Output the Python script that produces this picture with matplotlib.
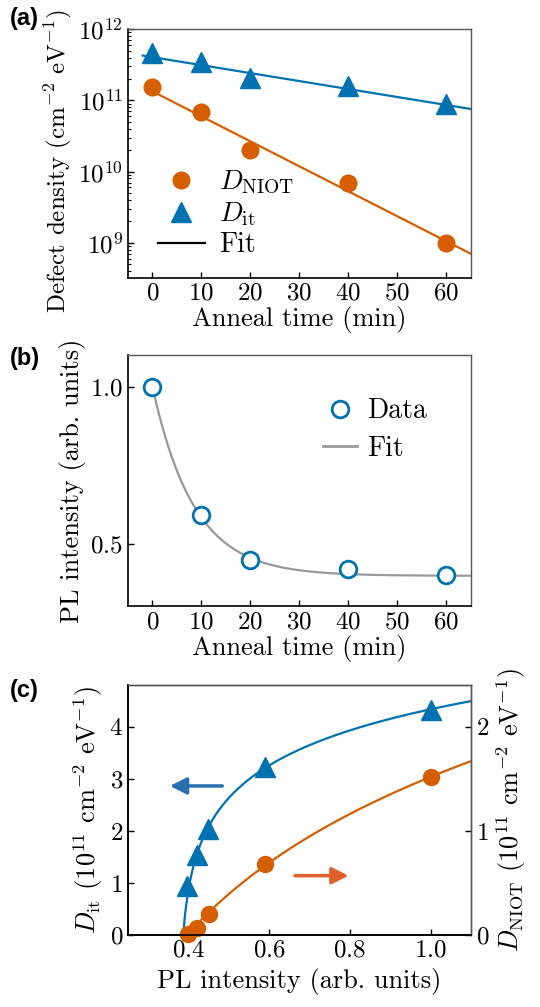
import numpy as np
import matplotlib
matplotlib.use("Agg")
import matplotlib.pyplot as plt
from matplotlib.lines import Line2D

plt.rcParams["font.family"] = "serif"
plt.rcParams["font.serif"] = ["cmr10"]
plt.rcParams["mathtext.fontset"] = "cm"
plt.rcParams["axes.formatter.use_mathtext"] = True

ORANGE = "#D55E00"
BLUE = "#0072B2"
GRAY = "#999999"

# --- data ---
# (a) defect densities vs anneal time
anneal_t = [0, 10, 20, 40, 60]
d_niot = [1.54e11, 6.86e10, 2.03e10, 6.8e9, 1.0e9]
d_it = [4.69e11, 3.47e11, 2.08e11, 1.57e11, 8.93e10]
# log10 linear fits: log10(D) = b0 + b1 * t
fit_it = (11.607, -0.0112)
fit_niot = (11.126, -0.0351)

# (b) PL intensity vs anneal time
pl = [1.0, 0.59, 0.449, 0.42, 0.3985]
# PL = A exp(-t/tau) + c
fit_pl = (0.603, 8.5, 0.397)

# (c) densities vs PL intensity
pl_it = [0.3975, 0.4216, 0.449, 0.590, 1.0]
dit_c = [0.95, 1.53, 2.03, 3.23, 4.33]
pl_niot = [0.398, 0.42, 0.45, 0.59, 1.0]
dniot_c = [0.01, 0.068, 0.2, 0.68, 1.52]
# D = a ln(1 + (PL - p0)/s)
fitc_it = (1.05, 0.387, 0.01)
fitc_niot = (1.515, 0.396, 0.35)

TICK = 18
LABEL = 19
LEG = 20

fig = plt.figure(figsize=(5.4, 10.07), dpi=100)
left, width = 0.237, 0.635
ax_a = fig.add_axes([left, 0.724, width, 0.247])
ax_b = fig.add_axes([left, 0.398, width, 0.249])
ax_c = fig.add_axes([left, 0.0715, width, 0.248])


def style(ax, right_ticks=False):
    for s in ["left", "bottom"]:
        ax.spines[s].set_linewidth(1.2)
    for s in ["top", "right"]:
        ax.spines[s].set_color("#555555")
        ax.spines[s].set_linewidth(1.0)
    ax.tick_params(direction="in", labelsize=TICK, length=4, width=1.0,
                   top=False, right=right_ticks)
    ax.tick_params(which="minor", direction="in", length=2.5, width=0.8)


# (a)
t_fit = np.linspace(-2, 65, 200)
ax_a.plot(t_fit, 10 ** (fit_it[0] + fit_it[1] * t_fit), color=BLUE, lw=1.6)
t_fit2 = np.linspace(0, 65, 200)
ax_a.plot(t_fit2, 10 ** (fit_niot[0] + fit_niot[1] * t_fit2), color=ORANGE, lw=1.6)
ax_a.plot(anneal_t, d_it, "^", color=BLUE, ms=15, ls="none")
ax_a.plot(anneal_t, d_niot, "o", color=ORANGE, ms=12, ls="none")
ax_a.set_yscale("log")
ax_a.set_xlim(-5, 65)
ax_a.set_ylim(3.2e8, 1e12)
ax_a.set_xticks([0, 10, 20, 30, 40, 50, 60])
ax_a.set_xlabel("Anneal time (min)", fontsize=LABEL, labelpad=1)
ax_a.set_ylabel("Defect density (cm$^{-2}$ eV$^{-1}$)", fontsize=18, labelpad=3)
ax_a.yaxis.set_label_coords(-0.158, 0.47)
style(ax_a)
handles = [
    Line2D([], [], marker="o", color=ORANGE, ms=12, ls="none"),
    Line2D([], [], marker="^", color=BLUE, ms=14, ls="none"),
    Line2D([], [], color="black", lw=1.6),
]
ax_a.legend(handles, [r"$D_\mathrm{NIOT}$", r"$D_\mathrm{it}$", "Fit"],
            loc="lower left", frameon=False, fontsize=LEG,
            handlelength=1.7, handletextpad=0.5, labelspacing=0.15,
            borderaxespad=0.3, bbox_to_anchor=(0.03, 0.0))

# (b)
A, tau, c = fit_pl
ax_b.plot(t_fit2, A * np.exp(-t_fit2 / tau) + c, color=GRAY, lw=1.6)
ax_b.plot(anneal_t, pl, "o", mfc="white", mec=BLUE, mew=2, ms=12, ls="none")
ax_b.set_xlim(-5, 65)
ax_b.set_ylim(0.3, 1.1)
ax_b.set_xticks([0, 10, 20, 30, 40, 50, 60])
ax_b.set_yticks([0.5, 1.0])
ax_b.set_xlabel("Anneal time (min)", fontsize=LABEL, labelpad=1)
ax_b.set_ylabel("PL intensity (arb. units)", fontsize=LABEL, labelpad=3)
style(ax_b)
handles_b = [
    Line2D([], [], marker="o", mfc="white", mec=BLUE, mew=2, ms=12, ls="none"),
    Line2D([], [], color=GRAY, lw=2),
]
ax_b.legend(handles_b, ["Data", "Fit"], loc="upper right", frameon=False,
            fontsize=LEG, handlelength=1.25, handletextpad=0.35,
            labelspacing=0.4, bbox_to_anchor=(0.945, 0.93))

# (c)
ax_r = ax_c.twinx()
a1, p1, s1 = fitc_it
x1 = np.linspace(p1, 1.1, 300)
ax_c.plot(x1, a1 * np.log(1 + (x1 - p1) / s1), color=BLUE, lw=1.6)
ax_c.plot(pl_it, dit_c, "^", color=BLUE, ms=15, ls="none", clip_on=False)
a2, p2, s2 = fitc_niot
x2 = np.linspace(p2, 1.1, 300)
ax_r.plot(x2, a2 * np.log(1 + (x2 - p2) / s2), color=ORANGE, lw=1.6)
ax_r.plot(pl_niot, dniot_c, "o", color=ORANGE, ms=11.5, ls="none", clip_on=False)
ax_c.set_xlim(0.25, 1.1)
ax_c.set_ylim(0, 4.8)
ax_r.set_ylim(0, 2.4)
ax_c.set_xticks([0.4, 0.6, 0.8, 1.0])
ax_c.set_yticks([0, 1, 2, 3, 4])
ax_r.set_yticks([0, 1, 2])
ax_c.set_xlabel("PL intensity (arb. units)", fontsize=LABEL)
ax_c.set_ylabel(r"$D_\mathrm{it}$ (10$^{11}$ cm$^{-2}$ eV$^{-1}$)", fontsize=LABEL, labelpad=3)
ax_r.set_ylabel(r"$D_\mathrm{NIOT}$ (10$^{11}$ cm$^{-2}$ eV$^{-1}$)", fontsize=LABEL)
style(ax_c)
style(ax_r, right_ticks=True)
ax_r.tick_params(left=False)

ax_c.annotate("", xy=(0.3536, 2.865), xytext=(0.4837, 2.865),
              arrowprops=dict(arrowstyle="-|>,head_length=0.5,head_width=0.25",
                              lw=2.5, color="#2B6FB3", mutation_scale=20,
                              shrinkA=0, shrinkB=0))
ax_c.annotate("", xy=(0.797, 1.14), xytext=(0.664, 1.14),
              arrowprops=dict(arrowstyle="-|>,head_length=0.5,head_width=0.25",
                              lw=2.5, color="#E0612C", mutation_scale=20,
                              shrinkA=0, shrinkB=0))

for lab, y in [("(a)", 1 - 18 / 1007), ("(b)", 1 - 358 / 1007), ("(c)", 1 - 690 / 1007)]:
    fig.text(0.018, y, lab, fontsize=17, fontweight="bold",
             family="Liberation Sans", va="center", ha="left")

fig.savefig("out.png", dpi=100)
